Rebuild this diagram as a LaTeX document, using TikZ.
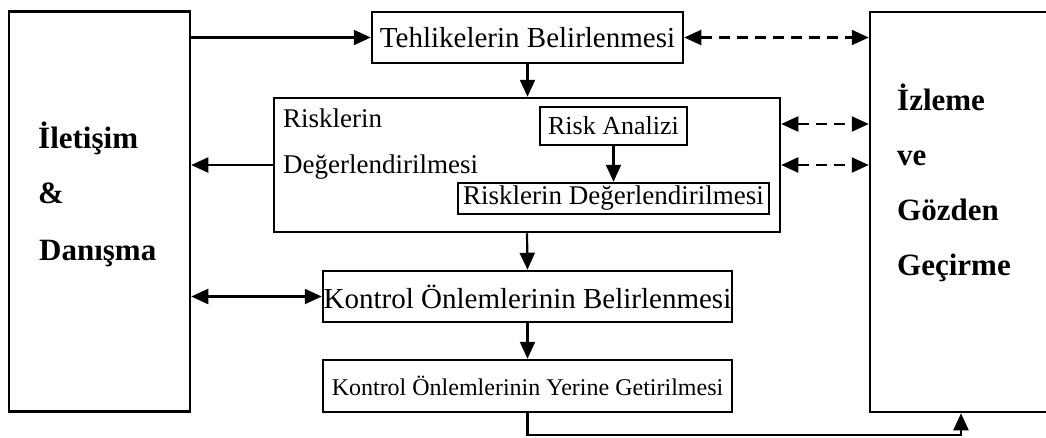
\documentclass[tikz,border=0pt]{standalone}
\usepackage{fontspec}
\setmainfont{Liberation Serif}
\usetikzlibrary{arrows.meta}
\begin{document}
\begin{tikzpicture}[x=1pt,y=-1pt,
  box/.style={draw,line width=2.5pt,inner sep=0pt,align=center},
  tip/.tip={Triangle[length=17pt,width=15pt]},
  arr/.style={line width=2.2pt,-tip},
  barr/.style={line width=2.2pt,tip-tip},
  darr/.style={line width=2.2pt,tip-tip,dash pattern=on 11pt off 7pt},
  big/.style={font=\fontsize{29}{35}\selectfont},
  mid/.style={font=\fontsize{27}{32}\selectfont},
  small/.style={font=\fontsize{24}{29}\selectfont},
  bold/.style={font=\fontsize{31}{37}\selectfont\bfseries,anchor=base west,inner sep=0pt}]
\useasboundingbox (0,0) rectangle (1046,437);
\clip (0,0) rectangle (1046,437);
% side boxes
\node[box,minimum width=181pt,minimum height=400pt] (ilet) at (99.5,211.5) {};
\node[box,minimum width=190pt,minimum height=400pt] (izl) at (965,212) {};
\node[bold] (t1) at (38,148) {İletişim};
\node[bold] (t2) at (38,203) {\&};
\node[bold] (t3) at (39,260) {Danışma};
\node[bold] (t4) at (897,110) {İzleme};
\node[bold] (t5) at (897,165) {ve};
\node[bold] (t6) at (897,220) {Gözden};
\node[bold] (t7) at (897,275) {Geçirme};
% central boxes
\node[box,big,minimum width=311pt,minimum height=51pt] (teh) at (527.5,37.5) {Tehlikelerin Belirlenmesi};
\node[box,minimum width=506pt,minimum height=134pt] (risk) at (527,165) {};
\node[mid,anchor=base west,inner sep=0pt] (rt1) at (283,127) {Risklerin};
\node[mid,anchor=base west,inner sep=0pt] (rt2) at (283,173) {Değerlendirilmesi};
\node[box,font=\fontsize{26}{31}\selectfont,minimum width=147pt,minimum height=38pt] (ra) at (613.5,126) {Risk Analizi};
\node[box,mid,minimum width=311pt,minimum height=31pt] (rd) at (613.5,198.5) {Risklerin Değerlendirilmesi};
\node[box,big,minimum width=409pt,minimum height=51pt] (kb) at (527.5,296.5) {Kontrol Önlemlerinin Belirlenmesi};
\node[box,small,minimum width=409pt,minimum height=52pt] (ky) at (527.5,386) {Kontrol Önlemlerinin Yerine Getirilmesi};
% connectors
\draw[arr] (ilet.east |- teh) -- (teh.west);
\draw[darr] (teh.east) -- (teh.east -| izl.west);
\draw[arr] (teh.south) -- (teh.south |- risk.north);
\draw[arr] (risk.west) -- (risk.west -| ilet.east);
\draw[darr] ([yshift=2pt]risk.east |- ra) -- ([yshift=2pt]ra -| izl.west);
\draw[darr] (risk.east) -- (risk.east -| izl.west);
\draw[arr] (ra.south) -- (ra.south |- rd.north);
\draw[arr] (risk.south) -- (kb.north);
\draw[barr] (ilet.east |- kb) -- (kb.west);
\draw[arr] (kb.south) -- (ky.north);
\coordinate (c1) at (961,435);
\draw[arr] (ky.south) |- (c1) -- (c1 |- izl.south);
\end{tikzpicture}
\end{document}
